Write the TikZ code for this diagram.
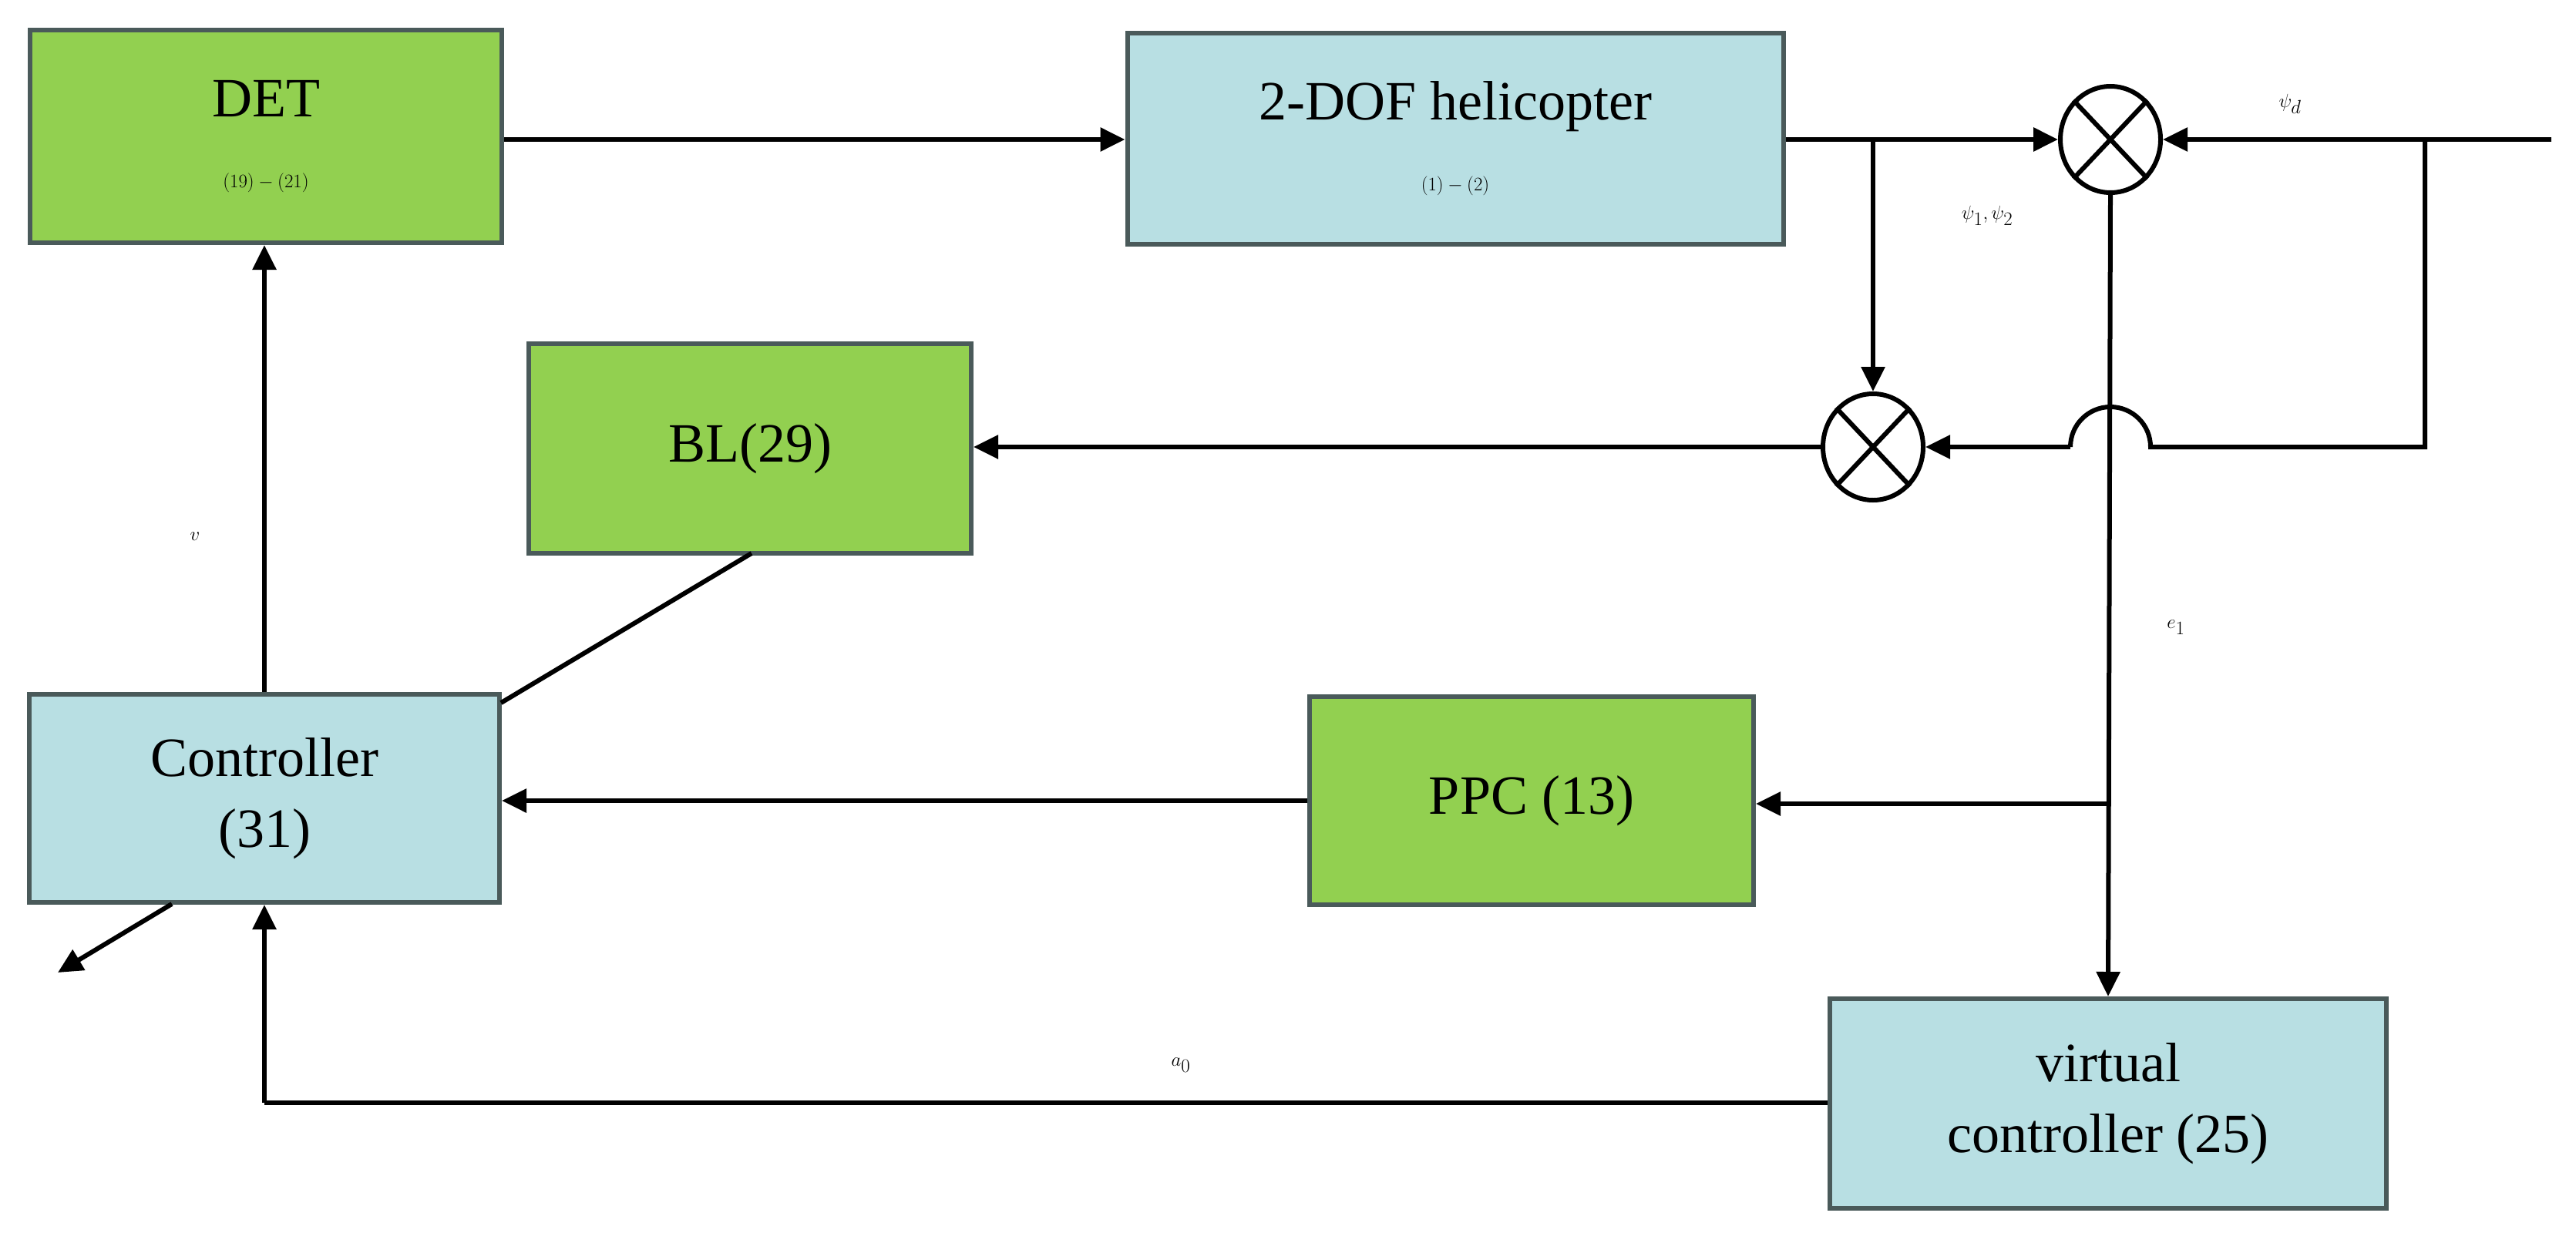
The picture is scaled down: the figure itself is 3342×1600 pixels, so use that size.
\documentclass[tikz,border=0pt]{standalone}
\usepackage{fontspec}
\setmainfont{Liberation Serif}
\usetikzlibrary{arrows.meta,shapes.geometric}
\definecolor{gbox}{HTML}{92D050}
\definecolor{bbox}{HTML}{B8DFE3}
\definecolor{bord}{HTML}{4A5A5A}
\begin{document}
\begin{tikzpicture}[x=1pt,y=-1pt,
  box/.style={draw=bord,line width=6pt,inner sep=0pt,align=center,font=\fontsize{72}{92}\selectfont},
  g/.style={box,fill=gbox}, b/.style={box,fill=bbox},
  sum/.style={draw,line width=6pt,ellipse,minimum width=130pt,minimum height=138pt,inner sep=0pt},
  ln/.style={line width=6pt},
  ar/.style={ln,-{Triangle[length=32pt,width=30pt]}},
  lbl/.style={font=\fontsize{72}{80}\selectfont}]
\useasboundingbox (0,0) rectangle (3342,1600);
\node[g,minimum width=612pt,minimum height=276pt] (det) at (345,177) {DET\\$(19)-(21)$};
\node[b,minimum width=851pt,minimum height=274pt] (hel) at (1888,180) {2-DOF helicopter\\$(1)-(2)$};
\node[g,minimum width=574pt,minimum height=272pt] (bl) at (973,582) {BL(29)};
\node[b,minimum width=610pt,minimum height=270pt] (ctl) at (343,1036) {Controller\\(31)};
\node[g,minimum width=576pt,minimum height=270pt] (ppc) at (1987,1039) {PPC (13)};
\node[b,minimum width=722pt,minimum height=272pt] (vc) at (2735,1432) {virtual\\controller (25)};
\node[sum] (s1) at (2738,181) {};
\node[sum] (s2) at (2430,580) {};
\foreach \s in {s1,s2}{
  \draw[ln] (\s.north east)--(\s.south west) (\s.north west)--(\s.south east);}
\coordinate (br1) at (2430,181);
\coordinate (rt) at (3310,181);
\coordinate (rc) at (3146,181);
\coordinate (rb) at (3146,580);
\coordinate (e1b) at (2738,1043);
\coordinate (a0c) at (343,1431);
\coordinate (out) at (75,1262);
\draw[ar] (det.east |- 0,181) -- (hel.west |- 0,181);
\draw[ar] (hel.east |- 0,181) -- (s1.west);
\draw[ar] (br1) -- (s2.north);
\draw[ar] (rt) -- (s1.east);
\draw[ln] (rc) -- (rb) -- (2790,580) arc[start angle=0,end angle=180,radius=52pt];
\draw[ar] (2686,580) -- (s2.east);
\draw[ar] (s2.west) -- (bl.east |- s2.west);
\draw[ar] (s1.south) -- (vc.north);
\draw[ar] (e1b) -- (ppc.east |- e1b);
\draw[ar] (ppc.west) -- (ctl.east |- ppc.west);
\draw[ar] (ctl.north) -- (det.south -| ctl.north);
\draw[ln] (975,718) -- (650,912);
\draw[ln] (vc.west |- a0c) -- (a0c);
\draw[ar] (a0c) -- (ctl.south);
\draw[ar] (223,1173) -- (out);
\node[lbl] at (2971,135) {$\psi_d$};
\node[lbl] at (2578,280) {$\psi_1,\psi_2$};
\node[lbl] at (253,696) {$v$};
\node[lbl] at (2823,814) {$e_1$};
\node[lbl] at (1532,1382) {$a_0$};
\end{tikzpicture}
\end{document}
